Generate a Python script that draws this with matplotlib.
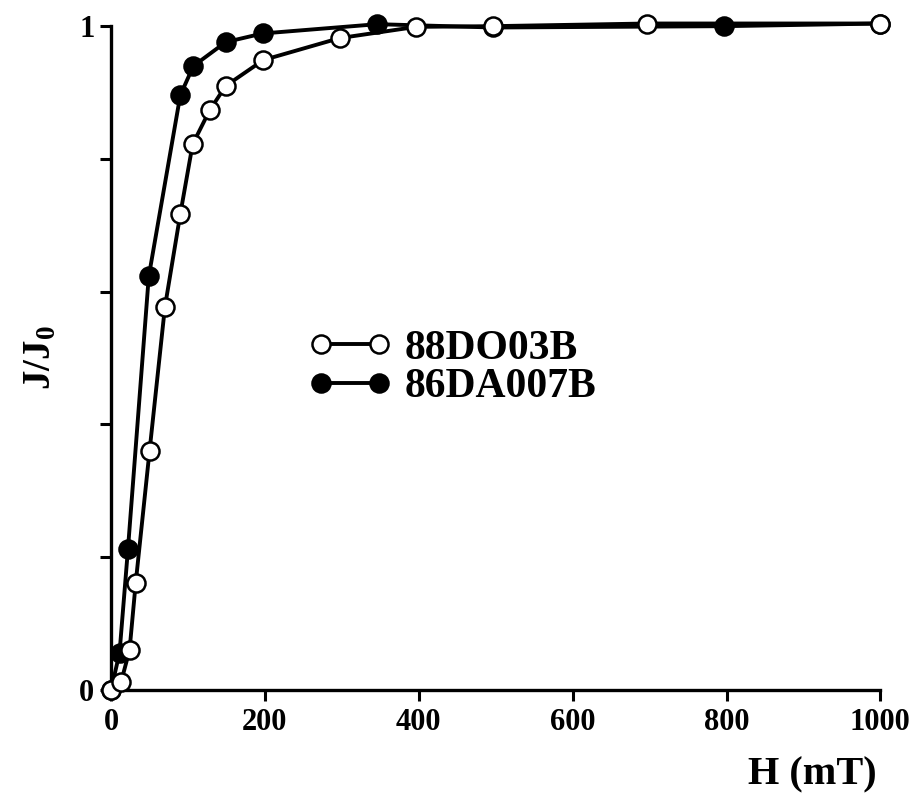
import matplotlib
matplotlib.use("Agg")
import matplotlib.pyplot as plt

# 88DO03B (open circles)
h_open = [0, 13, 24, 32, 50, 70, 90, 106, 128, 149, 198, 297, 397, 497, 697, 1000]
j_open = [0.0, 0.012, 0.06, 0.161, 0.36, 0.577, 0.717, 0.822, 0.873, 0.91, 0.949,
          0.982, 0.999, 1.0, 1.004, 1.004]

# 86DA007B (filled circles)
h_fill = [0, 11, 22, 49, 90, 107, 149, 197, 346, 497, 797, 1000]
j_fill = [0.0, 0.056, 0.213, 0.623, 0.896, 0.94, 0.976, 0.989, 1.003, 0.998, 1.0, 1.004]

yticks = [0, 0.2, 0.4, 0.6, 0.8, 1.0]
ylabels = ["0", "", "", "", "", "1"]
xticks = [0, 200, 400, 600, 800, 1000]

plt.rcParams["font.family"] = ["Liberation Serif", "DejaVu Serif"]
plt.rcParams["font.weight"] = "bold"
plt.rcParams["mathtext.fontset"] = "custom"
plt.rcParams["mathtext.rm"] = "Liberation Serif:bold"
plt.rcParams["mathtext.it"] = "Liberation Serif:bold"
plt.rcParams["mathtext.bf"] = "Liberation Serif:bold"

fig = plt.figure(figsize=(9.18, 7.93), dpi=100)
ax = fig.add_axes([0.121, 0.130, 0.838, 0.837])

ax.plot(h_fill, j_fill, color="black", lw=2.8, marker="o", ms=13,
        mfc="black", mec="black", mew=1.8, clip_on=False, zorder=3,
        label="86DA007B")
ax.plot(h_open, j_open, color="black", lw=2.8, marker="o", ms=13,
        mfc="white", mec="black", mew=1.8, clip_on=False, zorder=4,
        label="88DO03B")

ax.set_xlim(0, 1000)
ax.set_ylim(0, 1)
ax.set_xticks(xticks)
ax.set_yticks(yticks)
ax.set_yticklabels(ylabels)
ax.tick_params(axis="both", direction="out", width=2.2, length=8, labelsize=22)
ax.tick_params(axis="x", pad=5)
ax.tick_params(axis="y", pad=4)

for s in ["top", "right"]:
    ax.spines[s].set_visible(False)
for s in ["left", "bottom"]:
    ax.spines[s].set_linewidth(2.4)

ax.set_ylabel(r"J/J$_\mathregular{0}$", fontsize=28, fontweight="bold", labelpad=14)
ax.set_xlabel("H (mT)", fontsize=29, fontweight="bold")
ax.xaxis.set_label_coords(0.995, -0.1)
ax.xaxis.label.set_horizontalalignment("right")

handles, labels = ax.get_legend_handles_labels()
ax.legend(handles[::-1], labels[::-1], numpoints=2, frameon=False,
          loc="center left", bbox_to_anchor=(0.235, 0.485), fontsize=30,
          handlelength=2.0, handletextpad=0.3, labelspacing=0.0,
          borderaxespad=0)

fig.savefig("out.png", dpi=100)
